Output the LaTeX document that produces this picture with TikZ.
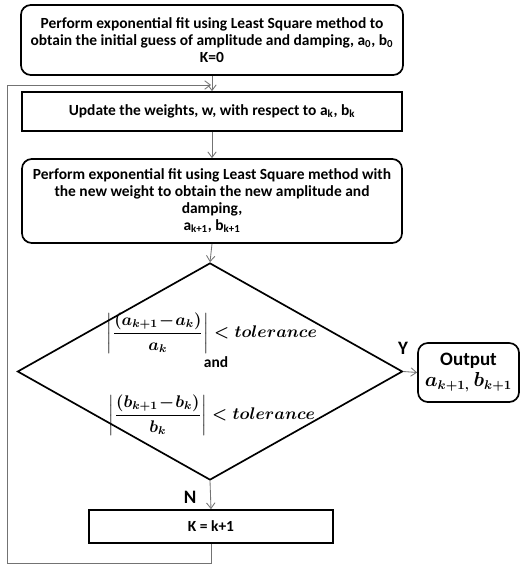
\documentclass[tikz,border=0pt]{standalone}
\usepackage{amsmath}
\usepackage{fontspec}
\setmainfont{Carlito}
\usetikzlibrary{shapes.geometric}
\usetikzlibrary{arrows.meta}

\newcommand{\reldiff}[1]{\left\lvert\dfrac{(#1_{k+1}\!-\!#1_k)}{#1_k}\right\rvert < tolerance}

\begin{document}
\begin{tikzpicture}[x=0.025cm,y=-0.025cm,>={Straight Barb[length=4pt,width=6pt]},
  every node/.style={font=\bfseries\fontsize{11}{12}\selectfont},
  roundbox/.style={draw,very thick,rounded corners=7pt,align=center,inner sep=2pt},
  plainbox/.style={draw,very thick,align=center,inner sep=2pt},
  decision/.style={draw,very thick,diamond,inner sep=0pt},
  flow/.style={->,draw=black!55,semithick},
  bigtext/.style={font=\mathversion{bold}\bfseries\fontsize{13.5}{15}\selectfont},
  mathtext/.style={font=\mathversion{bold}\fontsize{11.5}{13}\selectfont}]

\useasboundingbox (0,0) rectangle (522,564);

\node[roundbox,minimum width=9.55cm,minimum height=1.75cm] (init) at (212,40)
  {Perform exponential fit using Least Square method to\\
   obtain the initial guess of amplitude and damping, a\textsubscript{0}, b\textsubscript{0}\\
   K=0};
\node[plainbox,minimum width=9.5cm,minimum height=0.975cm] (weights) at (212,111.5)
  {Update the weights, w, with respect to a\textsubscript{k}, b\textsubscript{k}};
\node[roundbox,minimum width=9.5cm,minimum height=2.1cm] (refit) at (212,201)
  {Perform exponential fit using Least Square method with\\
   the new weight to obtain the new amplitude and\\
   damping,\\
   a\textsubscript{k+1}, b\textsubscript{k+1}};
\node[decision,minimum width=9.625cm,minimum height=5.425cm] (check) at (210,371.5) {};
\node[mathtext] (conda) at (212,333) {$\reldiff{a}$};
\node (andtext) at (216,362) {and};
\node[mathtext] (condb) at (212,415) {$\reldiff{b}$};
\node[roundbox,bigtext,minimum width=2.525cm,minimum height=1.475cm] (out) at (468.5,372.5)
  {Output\\ $a_{k+1,}\,b_{k+1}$};
\node[plainbox,minimum width=6.1cm,minimum height=0.825cm] (incr) at (211,526.5) {K = k+1};
\node[bigtext] (yes) at (403,348) {Y};
\node[bigtext] (no) at (190,497) {N};

\coordinate (corner) at (7,563);
\coordinate (join) at (211,85);

\draw[flow] (init.south) -- (weights.north);
\draw[flow] (weights.south) -- (refit.north);
\draw[flow] (refit.south) -- (check.north);
\draw[flow] (check.east) -- (out.west);
\draw[flow] (check.south) -- (incr.north);
\draw[flow] (incr.south) |- (corner) |- (join);

\end{tikzpicture}
\end{document}
